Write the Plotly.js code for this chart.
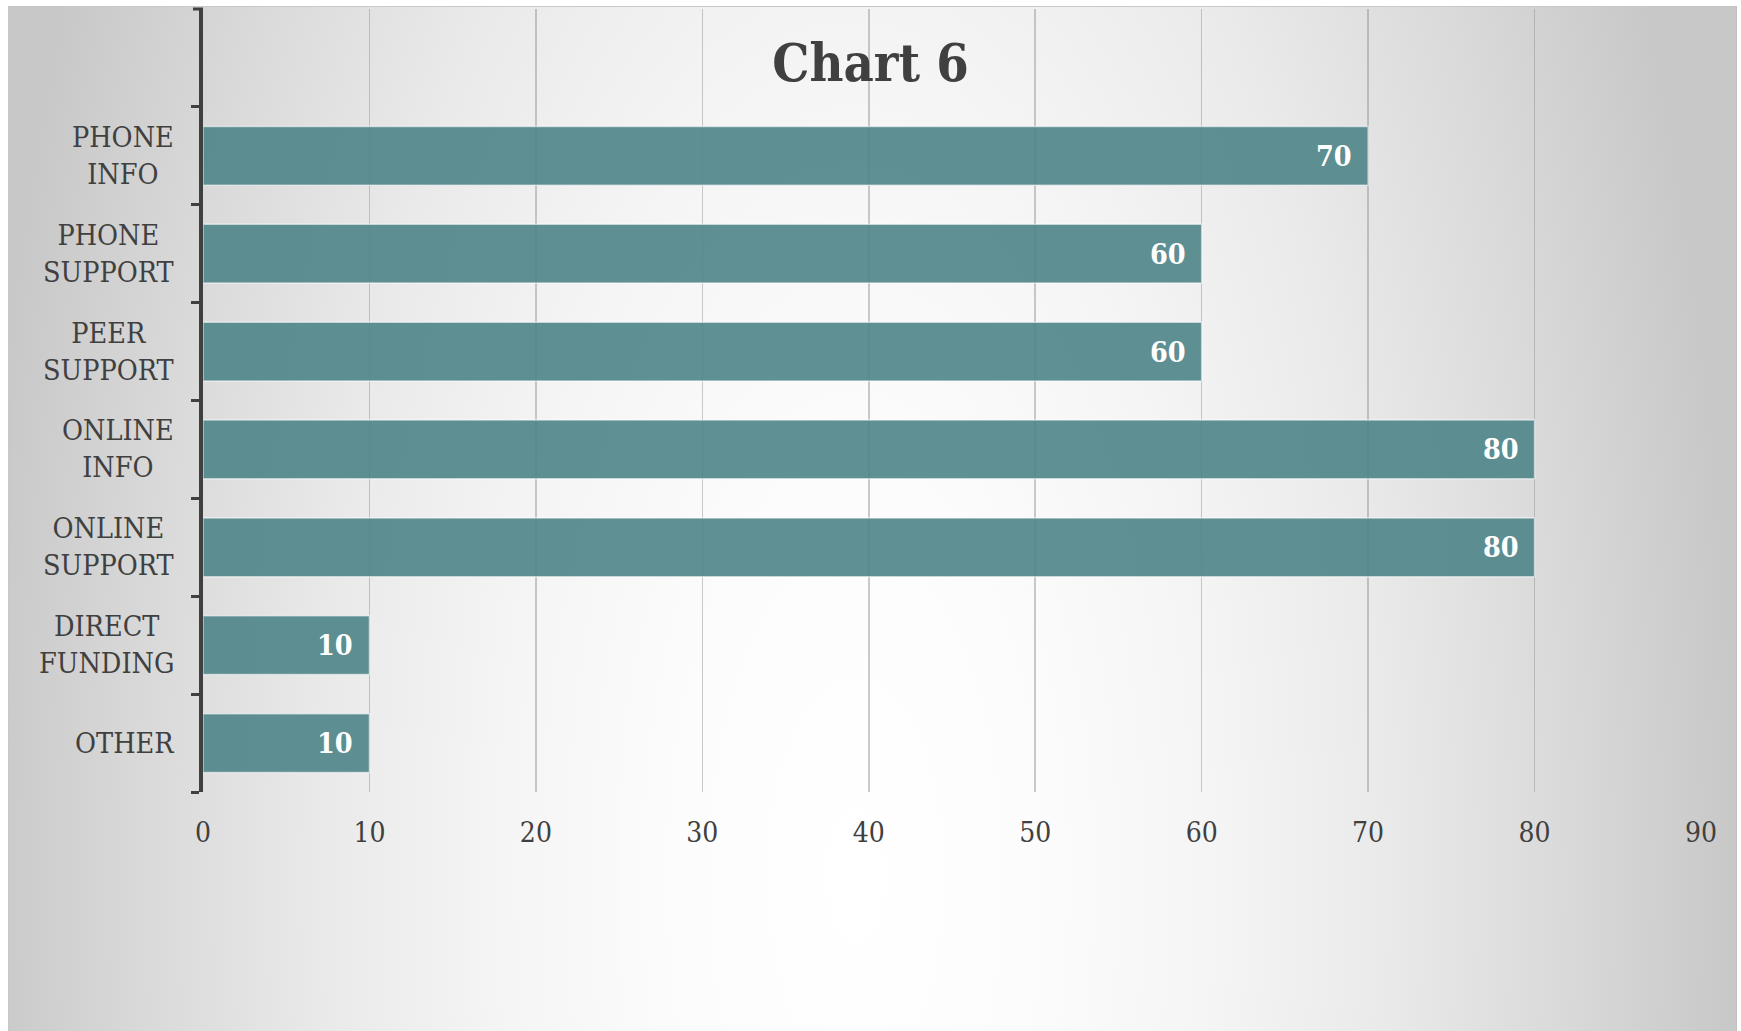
<!DOCTYPE html>
<html>
<head>
<meta charset="utf-8">
<script src="https://cdn.plot.ly/plotly-3.0.1.min.js"></script>
<style>
  html, body { margin: 0; padding: 0; background: #ffffff; width: 1741px; height: 1031px; overflow: hidden; }
  #frame {
    position: absolute; left: 8px; top: 6px; width: 1729px; height: 1025px;
    box-sizing: border-box; border-top: 1px solid #c8c8c8; border-left: 1px solid #c8c8c8; border-right: 1px solid #c0c0c0;
    background: radial-gradient(ellipse 880px 2000px at 49% 85%, #ffffff 0%, #fcfcfc 20%, #f5f5f5 40%, #eaeaea 60%, #dadada 80%, #c8c8c8 100%);
  }
  #chart { position: absolute; left: 0; top: 0; width: 1741px; height: 1031px; }
</style>
</head>
<body>
<div id="frame"></div>
<div id="chart"></div>
<script>
// Data (bottom to top as drawn)
const categories = ["OTHER", "DIRECT<br>FUNDING", "ONLINE<br>SUPPORT", "ONLINE<br>INFO", "PEER<br>SUPPORT", "PHONE<br>SUPPORT", "PHONE<br>INFO"];
const values = [10, 10, 80, 80, 60, 60, 70];
const xTicks = [0, 10, 20, 30, 40, 50, 60, 70, 80, 90];
const chartTitle = "Chart 6";

const FONT = "'DejaVu Serif Condensed', 'DejaVu Serif', serif";
const TXT = "#404040";

const trace = {
  type: "bar",
  orientation: "h",
  x: values,
  y: categories,
  width: 0.6,
  marker: { color: "rgba(76,132,136,0.9)", line: { color: "rgba(255,255,255,0.55)", width: 1.5 } },
  hoverinfo: "x+y",
  showlegend: false
};

const annotations = [];
categories.forEach((c, i) => {
  annotations.push({
    x: values[i], y: c, xref: "x", yref: "y",
    text: String(values[i]), showarrow: false,
    xanchor: "right", yanchor: "middle", xshift: -14,
    font: { family: FONT, size: 28.5, color: "#ffffff", weight: "bold" }
  });
  annotations.push({
    x: 0, y: c, xref: "paper", yref: "y",
    text: c, showarrow: false, align: "center",
    xanchor: "right", yanchor: "middle", xshift: -27,
    font: { family: FONT, size: 28.5, color: TXT }
  });
});

const layout = {
  width: 1741, height: 1031,
  paper_bgcolor: "rgba(0,0,0,0)",
  plot_bgcolor: "rgba(0,0,0,0)",
  margin: { l: 203, r: 40, t: 9, b: 239, autoexpand: false },
  title: {
    text: "<b>" + chartTitle + "</b>",
    x: 0.5, xref: "container", xanchor: "center",
    y: 1 - 63 / 1031, yref: "container", yanchor: "middle",
    font: { family: FONT, size: 52, color: TXT }
  },
  xaxis: {
    range: [0, 90],
    tickmode: "array", tickvals: xTicks, ticktext: xTicks.map(String),
    showgrid: true, gridcolor: "rgba(140,140,140,0.45)", gridwidth: 1.5,
    zeroline: false, showline: false, ticks: "",
    tickfont: { family: FONT, size: 28, color: TXT },
    ticklabelstandoff: 21
  },
  yaxis: {
    type: "category",
    categoryorder: "array", categoryarray: categories,
    range: [-0.5, 7.5],
    showgrid: false, zeroline: false,
    showline: true, linecolor: TXT, linewidth: 4,
    ticks: "outside", ticklen: 8, tickwidth: 3, tickcolor: TXT,
    tickson: "boundaries",
    showticklabels: false
  },
  shapes: [{
    type: "line", xref: "paper", xsizemode: "pixel", xanchor: 0, x0: -10, x1: 0,
    yref: "paper", y0: 1, y1: 1, line: { color: TXT, width: 3 }
  }],
  annotations: annotations
};

Plotly.newPlot("chart", [trace], layout, { displayModeBar: false, staticPlot: true });
</script>
</body>
</html>
